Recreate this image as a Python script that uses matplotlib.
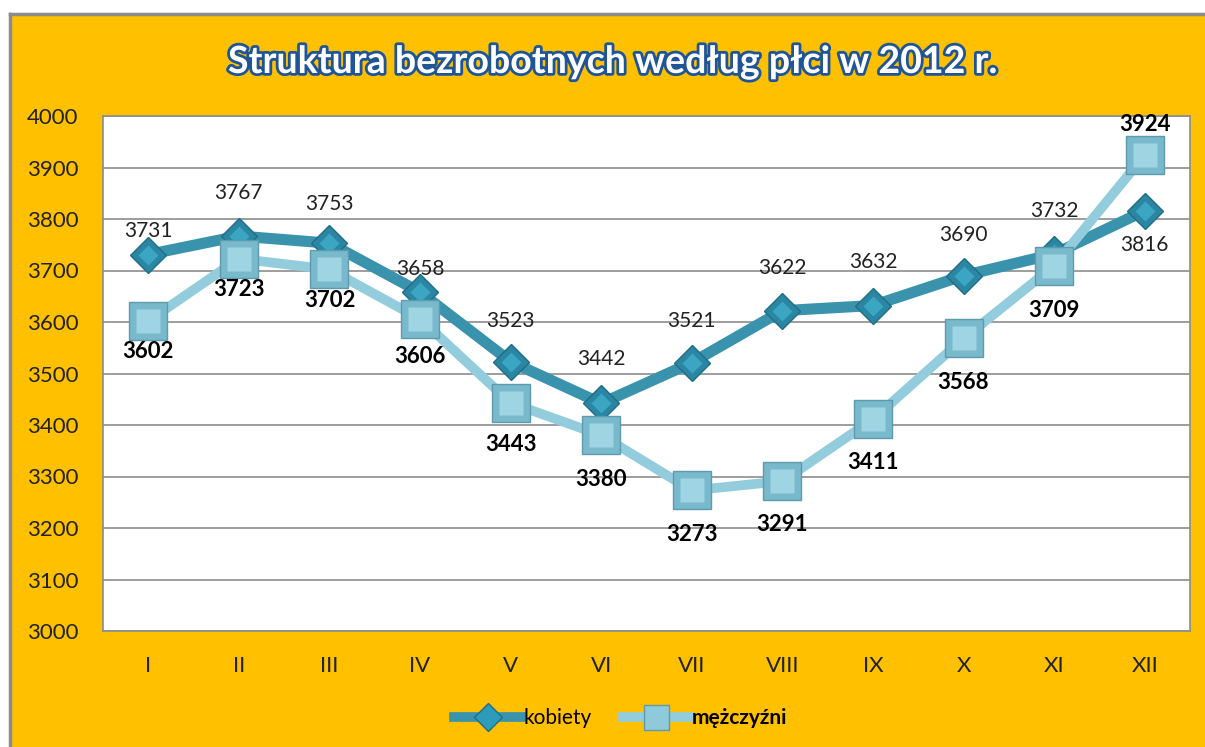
import matplotlib
matplotlib.use("Agg")
import matplotlib.pyplot as plt
import matplotlib.patheffects as pe
from matplotlib.patches import Rectangle
from matplotlib.lines import Line2D

# Dane
miesiace = ["I", "II", "III", "IV", "V", "VI", "VII", "VIII", "IX", "X", "XI", "XII"]
kobiety = [3731, 3767, 3753, 3658, 3523, 3442, 3521, 3622, 3632, 3690, 3732, 3816]
mezczyzni = [3602, 3723, 3702, 3606, 3443, 3380, 3273, 3291, 3411, 3568, 3709, 3924]

# przesuniecia etykiet danych (w punktach) - tak jak w oryginale
off_kob = [17, 31, 28, 17, 29, 32, 30, 31, 31, 29, 31, -25]
off_mez = [-22, -22, -22, -27, -30, -32, -32, -31, -31, -32, -32, 22]

plt.rcParams['font.family'] = ['Lato', 'DejaVu Sans']

ORANGE = '#FFC000'
C_KOB = '#3A93AD'
C_MEZ = '#93CDDD'

fig = plt.figure(figsize=(12.05, 7.47), dpi=100)
fig.patch.set_facecolor('white')

# Tlo wykresu (pomaranczowe) z szara ramka
fig.patches.append(Rectangle((10 / 1205, 0), 1 - 10 / 1205, 1 - 14 / 747,
                             transform=fig.transFigure, facecolor=ORANGE,
                             edgecolor='none', zorder=-5))
fig.lines.append(Line2D([10 / 1205, 10 / 1205], [0, 1 - 14 / 747], transform=fig.transFigure,
                        color='#8c8c8c', lw=2.5, zorder=-4))
fig.lines.append(Line2D([10 / 1205, 1], [1 - 14 / 747, 1 - 14 / 747], transform=fig.transFigure,
                        color='#8c8c8c', lw=2.5, zorder=-4))

ax = fig.add_axes([103 / 1205, 116 / 747, 1087 / 1205, 515 / 747])
ax.set_facecolor('white')
ax.set_zorder(1)

x = list(range(len(miesiace)))

# linie + markery (z wewnetrznym markerem jako efekt "fazy")
ax.plot(x, kobiety, color=C_KOB, lw=8, marker='D', ms=18,
        markerfacecolor='#2A86A2', markeredgecolor='#1F6E86', markeredgewidth=1, zorder=3)
ax.plot(x, kobiety, ls='none', marker='D', ms=10, markerfacecolor='#3BA5C4',
        markeredgecolor='none', zorder=3.1)
ax.plot(x, mezczyzni, color=C_MEZ, lw=7, marker='s', ms=27,
        markerfacecolor='#79B9CC', markeredgecolor='#5E9AAB', markeredgewidth=1, zorder=4)
ax.plot(x, mezczyzni, ls='none', marker='s', ms=17, markerfacecolor='#9FD5E3',
        markeredgecolor='none', zorder=4.1)

# Etykiety danych
for i, v in enumerate(kobiety):
    ax.annotate(str(v), (i, v), xytext=(0, off_kob[i]), textcoords='offset points',
                ha='center', va='center', fontsize=15, color='#222222', zorder=5)
for i, v in enumerate(mezczyzni):
    ax.annotate(str(v), (i, v), xytext=(0, off_mez[i]), textcoords='offset points',
                ha='center', va='center', fontsize=16, fontweight='bold', color='black', zorder=5)

ax.set_xlim(-0.5, 11.5)
ax.set_ylim(3000, 4000)
ax.set_yticks(range(3000, 4001, 100))
ax.set_xticks(x)
ax.set_xticklabels(miesiace)
ax.tick_params(axis='both', length=0, labelsize=16, colors='#222222')
ax.tick_params(axis='x', pad=18)
ax.tick_params(axis='y', pad=55)
for lab in ax.get_yticklabels():
    lab.set_horizontalalignment('left')
ax.yaxis.grid(True, color='#8c8c8c', lw=1.2)
ax.set_axisbelow(True)
for s in ax.spines.values():
    s.set_color('#8c8c8c')
    s.set_linewidth(1.2)

# Tytul
fig.text(0.508, 1 - 62 / 747, 'Struktura bezrobotnych według płci w 2012 r.',
         ha='center', va='center', fontsize=27, fontweight='bold', color='white',
         path_effects=[pe.withStroke(linewidth=4, foreground='#1F5596')])

# Legenda
h1 = Line2D([], [], color=C_KOB, lw=7, marker='D', ms=14,
            markerfacecolor='#2E9BBB', markeredgecolor='#1F6E86')
h2 = Line2D([], [], color=C_MEZ, lw=7, marker='s', ms=18,
            markerfacecolor='#8FCADB', markeredgecolor='#5E9AAB')
leg = fig.legend([h1, h2], ['kobiety', 'mężczyźni'], loc='center',
                 bbox_to_anchor=(0.515, 1 - 718 / 747), ncol=2, frameon=False,
                 fontsize=15, handlelength=3.2, handletextpad=0.1, columnspacing=1.5)
leg.get_texts()[1].set_fontweight('bold')

fig.savefig('out.png', dpi=100, facecolor=fig.get_facecolor())
